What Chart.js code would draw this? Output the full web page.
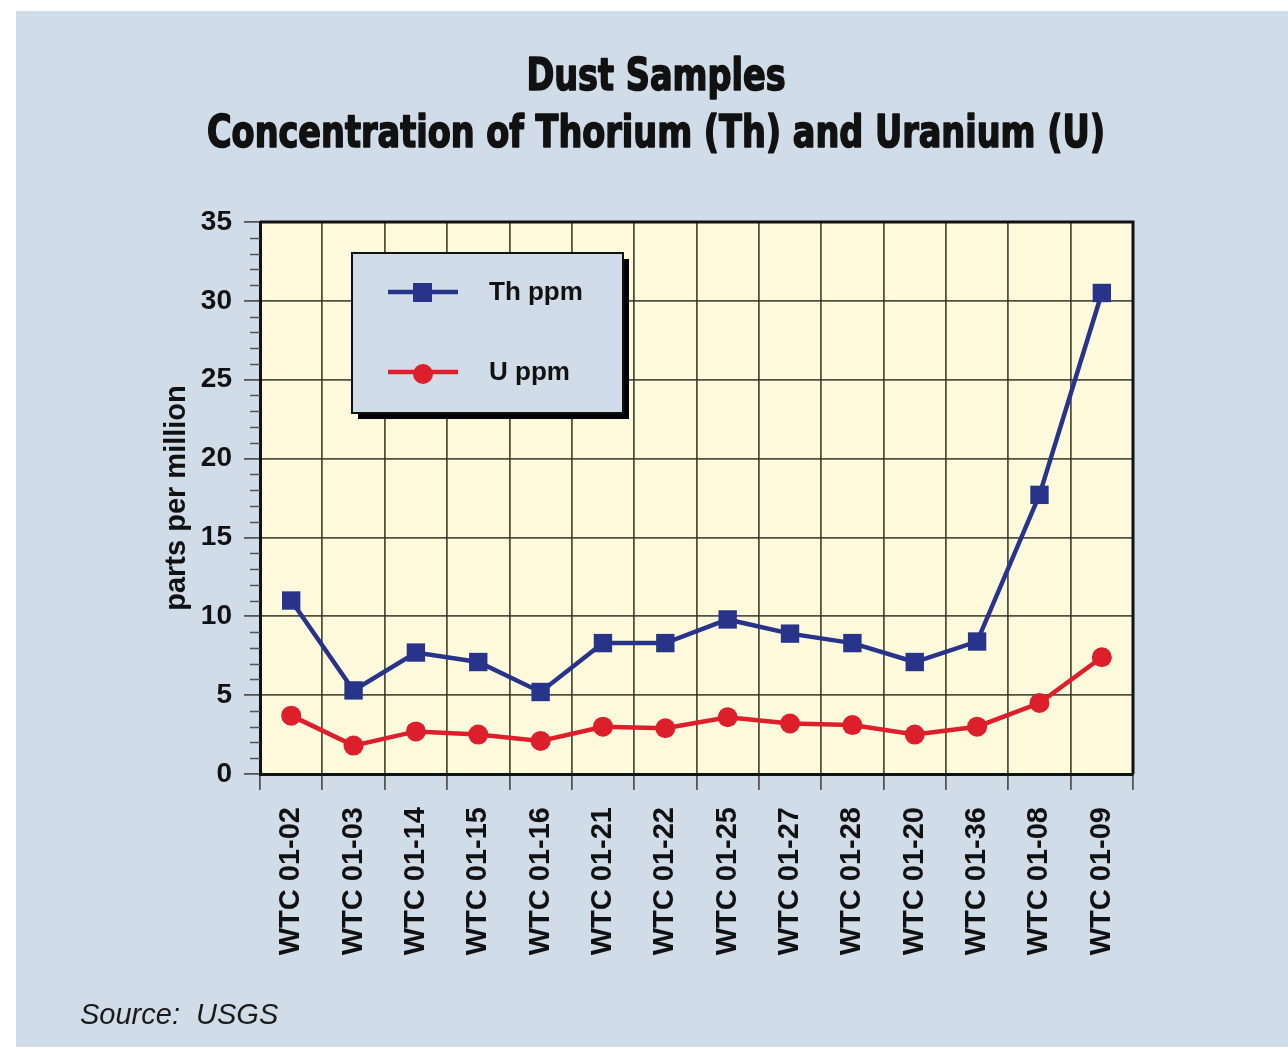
<!DOCTYPE html>
<html>
<head>
<meta charset="utf-8">
<title>Dust Samples</title>
<script src="https://cdn.jsdelivr.net/npm/chart.js@4/dist/chart.umd.min.js"></script>
<style>
  body { margin: 0; background: #ffffff; }
  canvas { display: block; }
</style>
</head>
<body>
<canvas id="dustChart" width="1288" height="1049"></canvas>
<script>
// Sample IDs along the x axis
const samples = ['WTC 01-02', 'WTC 01-03', 'WTC 01-14', 'WTC 01-15', 'WTC 01-16', 'WTC 01-21', 'WTC 01-22',
                 'WTC 01-25', 'WTC 01-27', 'WTC 01-28', 'WTC 01-20', 'WTC 01-36', 'WTC 01-08', 'WTC 01-09'];

// Concentrations in ppm
const thorium = [11.0, 5.3, 7.7, 7.1, 5.2, 8.3, 8.3, 9.8, 8.9, 8.3, 7.1, 8.4, 17.7, 30.5];
const uranium = [3.7, 1.8, 2.7, 2.5, 2.1, 3.0, 2.9, 3.6, 3.2, 3.1, 2.5, 3.0, 4.5, 7.4];

const titleLines = ['Dust Samples', 'Concentration of Thorium (Th) and Uranium (U)'];
const sourceText = 'Source:  USGS';

const panelColor = '#d0dce8';
const plotColor = '#fffadc';
const thColor = '#28348a';
const uColor = '#dc1f2a';
const sansFamily = "'Liberation Sans', Arial, sans-serif";

// backgrounds, frame, minor ticks, legend box, titles
const decorations = {
  id: 'decorations',
  beforeDraw(chart) {
    const { ctx, chartArea: a } = chart;
    ctx.save();
    ctx.fillStyle = '#ffffff';
    ctx.fillRect(0, 0, chart.width, chart.height);
    ctx.fillStyle = panelColor;
    ctx.fillRect(16, 11, chart.width - 16, chart.height - 13);
    ctx.fillStyle = plotColor;
    ctx.fillRect(a.left, a.top, a.right - a.left, a.bottom - a.top);
    ctx.restore();
  },
  beforeDatasetsDraw(chart) {
    const { ctx, chartArea: a, scales: { y } } = chart;
    ctx.save();
    // minor ticks every 1 ppm
    ctx.strokeStyle = '#555555';
    ctx.lineWidth = 1.5;
    for (let v = y.min; v <= y.max; v++) {
      if (v % 5 === 0) continue;
      const py = Math.round(y.getPixelForValue(v)) + 0.5;
      ctx.beginPath();
      ctx.moveTo(a.left - 10, py);
      ctx.lineTo(a.left, py);
      ctx.stroke();
    }
    // top and right edges of the frame
    ctx.strokeStyle = '#111111';
    ctx.lineWidth = 3;
    ctx.beginPath();
    ctx.moveTo(a.left, a.top);
    ctx.lineTo(a.right, a.top);
    ctx.lineTo(a.right, a.bottom);
    ctx.stroke();
    ctx.restore();
  },
  afterDatasetsDraw(chart) {
    const { ctx, chartArea: a } = chart;
    const bx = a.left + 92, by = a.top + 31, bw = 271, bh = 160;
    ctx.save();
    ctx.fillStyle = '#000000';
    ctx.fillRect(bx + 6, by + 6, bw, bh);
    ctx.fillStyle = panelColor;
    ctx.fillRect(bx, by, bw, bh);
    ctx.strokeStyle = '#111111';
    ctx.lineWidth = 2;
    ctx.strokeRect(bx, by, bw, bh);

    chart.data.datasets.forEach((ds, i) => {
      const ly = by + 39 + i * 80;
      const lx = bx + 36;
      ctx.strokeStyle = ds.borderColor;
      ctx.lineWidth = 4.5;
      ctx.beginPath();
      ctx.moveTo(lx, ly);
      ctx.lineTo(lx + 70, ly);
      ctx.stroke();
      ctx.fillStyle = ds.borderColor;
      if (ds.pointStyle === 'rect') {
        ctx.fillRect(lx + 25, ly - 9, 19, 19);
      } else {
        ctx.beginPath();
        ctx.arc(lx + 35, ly + 2, 10, 0, Math.PI * 2);
        ctx.fill();
      }
      ctx.fillStyle = '#111111';
      ctx.font = 'bold 26px ' + sansFamily;
      ctx.textBaseline = 'middle';
      ctx.textAlign = 'left';
      ctx.fillText(ds.label, bx + 137, ly + 1);
    });
    ctx.restore();
  },
  afterDraw(chart) {
    const { ctx } = chart;
    ctx.save();
    ctx.fillStyle = '#111111';
    ctx.strokeStyle = '#111111';
    ctx.lineJoin = 'round';
    ctx.textAlign = 'center';
    ctx.textBaseline = 'alphabetic';
    ctx.font = "bold 45px 'DejaVu Sans Condensed', 'DejaVu Sans', sans-serif";
    const squeeze = 898 / ctx.measureText(titleLines[1]).width;
    [90, 147].forEach((baseline, i) => {
      ctx.save();
      ctx.translate(656, baseline);
      ctx.scale(squeeze, 1);
      ctx.lineWidth = 1.6;
      ctx.fillText(titleLines[i], 0, 0);
      ctx.strokeText(titleLines[i], 0, 0);
      ctx.restore();
    });
    ctx.textAlign = 'left';
    ctx.font = 'italic 29px ' + sansFamily;
    ctx.fillStyle = '#1a1a1a';
    ctx.fillText(sourceText, 80, 1024);
    ctx.restore();
  }
};

new Chart(document.getElementById('dustChart'), {
  type: 'line',
  data: {
    labels: samples,
    datasets: [
      {
        label: 'Th ppm',
        data: thorium,
        borderColor: thColor,
        backgroundColor: thColor,
        borderWidth: 4.5,
        pointStyle: 'rect',
        pointRadius: 13,
        pointBorderWidth: 0,
        tension: 0
      },
      {
        label: 'U ppm',
        data: uranium,
        borderColor: uColor,
        backgroundColor: uColor,
        borderWidth: 4.5,
        pointStyle: 'circle',
        pointRadius: 10,
        pointBorderWidth: 0,
        tension: 0
      }
    ]
  },
  options: {
    responsive: false,
    animation: false,
    layout: { padding: { left: 150, top: 222, right: 155, bottom: 75 } },
    plugins: {
      legend: { display: false },
      title: { display: false },
      tooltip: { enabled: false }
    },
    scales: {
      x: {
        offset: true,
        afterFit(scale) { scale.height = 200; },
        grid: {
          offset: true,
          color: 'rgba(50, 50, 40, 0.85)',
          lineWidth: 1.8,
          tickLength: 16,
          tickColor: '#555555'
        },
        border: { color: '#111111', width: 3 },
        ticks: {
          autoSkip: false,
          minRotation: 90,
          maxRotation: 90,
          padding: 17,
          color: '#111111',
          font: { family: sansFamily, size: 29, weight: 'bold' }
        }
      },
      y: {
        min: 0,
        max: 35,
        afterFit(scale) { scale.width = 110; },
        grid: {
          color: 'rgba(50, 50, 40, 0.85)',
          lineWidth: 1.8,
          tickLength: 16,
          tickColor: '#555555'
        },
        border: { color: '#111111', width: 3 },
        ticks: {
          stepSize: 5,
          padding: 12,
          color: '#111111',
          font: { family: sansFamily, size: 28, weight: 'bold' }
        },
        title: {
          display: true,
          text: 'parts per million',
          color: '#111111',
          padding: { top: 12, bottom: 0 },
          font: { family: sansFamily, size: 29, weight: 'bold', lineHeight: 1 }
        }
      }
    }
  },
  plugins: [decorations]
});
</script>
</body>
</html>
